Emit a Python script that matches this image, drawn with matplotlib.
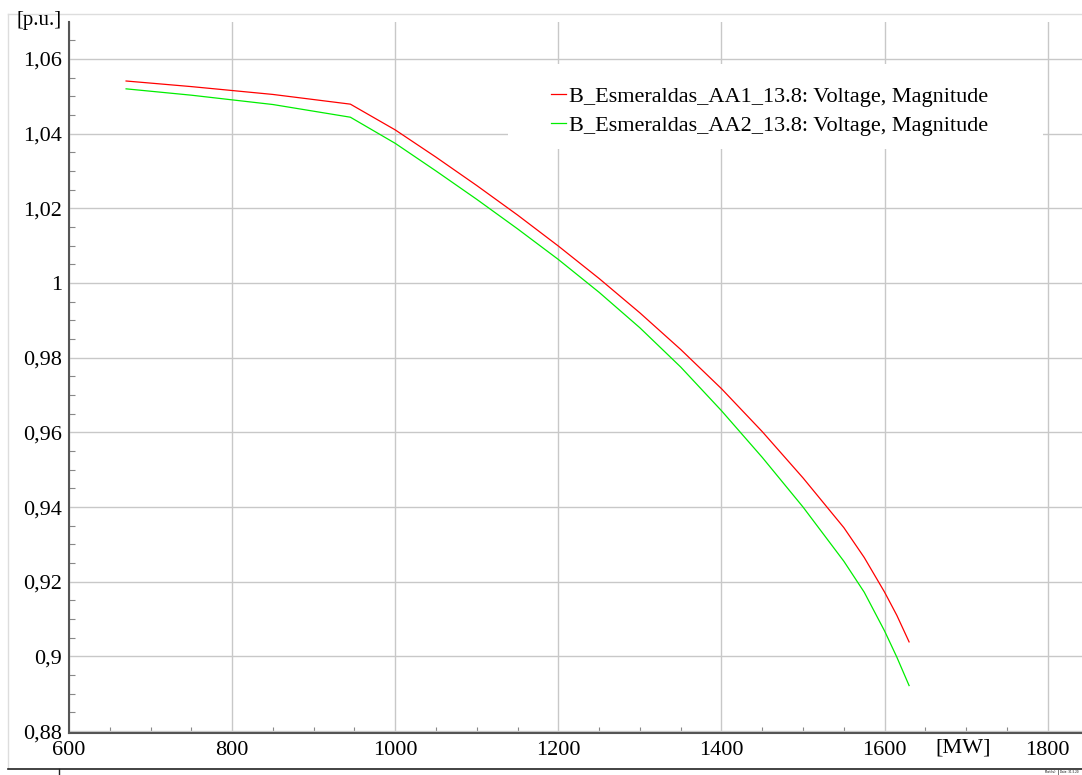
import numpy as np
import matplotlib
matplotlib.use('Agg')
import matplotlib.pyplot as plt
from matplotlib.patches import Rectangle
from matplotlib.lines import Line2D
from matplotlib.ticker import MultipleLocator, FixedLocator, FixedFormatter

plt.rcParams['font.family'] = ['Liberation Serif', 'DejaVu Serif']

# Datos (P [MW] vs tensión [p.u.])
p_aa1 = [670, 750, 850, 945, 1000, 1050, 1100, 1150, 1200, 1250, 1300, 1350,
         1400, 1450, 1500, 1550, 1575, 1600, 1615, 1630]
v_aa1 = [1.0541, 1.0526, 1.0505, 1.0479, 1.0410, 1.0337, 1.0261, 1.0182, 1.0099,
         1.0012, 0.9920, 0.9822, 0.9717, 0.9602, 0.9478, 0.9345, 0.9265, 0.9172,
         0.9110, 0.9039]

p_aa2 = [670, 750, 850, 945, 1000, 1050, 1100, 1150, 1200, 1250, 1300, 1350,
         1400, 1450, 1500, 1550, 1575, 1600, 1615, 1630]
v_aa2 = [1.0520, 1.0503, 1.0478, 1.0444, 1.0374, 1.0300, 1.0224, 1.0145, 1.0063,
         0.9975, 0.9880, 0.9775, 0.9658, 0.9533, 0.9400, 0.9255, 0.9172, 0.9068,
         0.8998, 0.8922]

labels = ['B_Esmeraldas_AA1_13.8: Voltage, Magnitude',
          'B_Esmeraldas_AA2_13.8: Voltage, Magnitude']

x_ticks = [600, 800, 1000, 1200, 1400, 1600, 1800]
y_ticks = [0.88, 0.90, 0.92, 0.94, 0.96, 0.98, 1.00, 1.02, 1.04, 1.06]
y_tick_labels = ['0,88', '0,9', '0,92', '0,94', '0,96', '0,98', '1', '1,02', '1,04', '1,06']

fig = plt.figure(figsize=(10.82, 7.75), dpi=100)
W, H = 1082, 775

ax = fig.add_axes([69 / W, (H - 733) / H, (W - 69) / W, 711 / H])
ax.set_xlim(600, 1842)
ax.set_ylim(0.8795, 1.0699)
ax.set_axisbelow(True)

ax.plot(p_aa1, v_aa1, color='#ff0000', lw=0.9, zorder=3)
ax.plot(p_aa2, v_aa2, color='#00ee00', lw=0.9, zorder=3)

ax.xaxis.set_major_locator(FixedLocator(x_ticks))
ax.xaxis.set_minor_locator(MultipleLocator(50))
ax.yaxis.set_major_locator(FixedLocator(y_ticks))
ax.yaxis.set_major_formatter(FixedFormatter(y_tick_labels))
ax.yaxis.set_minor_locator(MultipleLocator(0.005))

ax.grid(True, which='major', color='#c8c8c8', lw=1.0)
ax.tick_params(which='both', direction='in', color='#888888', labelsize=16,
               labelcolor='black')
ax.tick_params(which='major', length=0)
ax.tick_params(which='minor', length=4, width=0.8)
ax.tick_params(axis='y', pad=5)
ax.tick_params(axis='x', pad=6)

for s in ['top', 'right']:
    ax.spines[s].set_visible(False)
for s in ['left', 'bottom']:
    ax.spines[s].set_color('#555555')
    ax.spines[s].set_linewidth(1.5)

# fondo blanco de la leyenda
ax.add_patch(Rectangle(((508 - 69) / 1013, (733 - 149) / 711), (1043 - 508) / 1013,
                       85 / 711, transform=ax.transAxes, facecolor='white',
                       edgecolor='none', zorder=1))

handles = [Line2D([], [], color='#ff0000', lw=0.9), Line2D([], [], color='#00ee00', lw=0.9)]
fig.legend(handles, labels, loc='upper left', bbox_to_anchor=(540 / W, 1 - 75 / H),
           frameon=False, fontsize=16, handlelength=0.65, handletextpad=0.15,
           labelspacing=0.38, borderpad=0)

fig.text(62 / W, 1 - 20 / H, '[p.u.]', ha='right', va='center', fontsize=15)
fig.text(963 / W, 1 - 748 / H, '[MW]', ha='center', va='center', fontsize=16)

# marco de la figura
fig.add_artist(Line2D([8 / W, 1], [1 - 14 / H, 1 - 14 / H], color='#dddddd', lw=1))
fig.add_artist(Line2D([8 / W, 8 / W], [1 - 14 / H, 1 - 768 / H], color='#dddddd', lw=1))
fig.add_artist(Line2D([8 / W, 1], [1 - 769 / H, 1 - 769 / H], color='#222222', lw=1.2))
fig.add_artist(Line2D([59 / W, 59 / W], [1 - 769 / H, 0], color='#222222', lw=1))
fig.add_artist(Line2D([1058 / W, 1058 / W], [1 - 769 / H, 0], color='#444444', lw=0.5))
fig.text(1056 / W, 1 - 772 / H, 'Plot(s)', ha='right', va='center', fontsize=2.5,
         family='DejaVu Sans')
fig.text(1060 / W, 1 - 772 / H, 'Date: 31.5.20', ha='left', va='center', fontsize=2.0,
         family='DejaVu Sans')

fig.savefig('out.png', dpi=100)
